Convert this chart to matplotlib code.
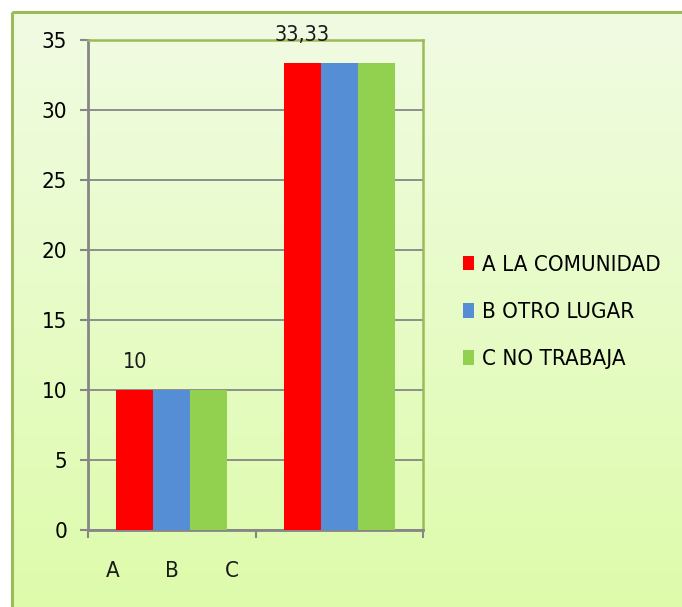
import matplotlib
matplotlib.use("Agg")
import matplotlib.pyplot as plt
import numpy as np
from matplotlib.patches import Rectangle
from matplotlib.colors import LinearSegmentedColormap

# Data
categories = ["", ""]
series_names = ["A LA COMUNIDAD", "B OTRO LUGAR", "C NO TRABAJA"]
series_values = {
    "A LA COMUNIDAD": [10, 33.33],
    "B OTRO LUGAR": [10, 33.33],
    "C NO TRABAJA": [10, 33.33],
}
data_labels = ["10", "33,33"]
extra_labels = ["A", "B", "C"]
extra_label_x = [-0.35, 0.0, 0.36]
colors = ["#FF0000", "#558ED5", "#92D050"]
yticks = [0, 5, 10, 15, 20, 25, 30, 35]

plt.rcParams['font.family'] = ['DejaVu Sans']
plt.rcParams['font.stretch'] = 'condensed'

fig = plt.figure(figsize=(6.82, 6.07), dpi=100)
fig.patch.set_facecolor("white")

# Background frame with gradient
bg = fig.add_axes([0, 0, 1, 1], zorder=0)
bg.axis("off")
cmap = LinearSegmentedColormap.from_list("g", [(0.945, 0.984, 0.890), (0.867, 0.988, 0.667)])
grad = np.linspace(0, 1, 256).reshape(-1, 1)
bg.imshow(grad, cmap=cmap, extent=[12, 690, 615, 12], aspect="auto", zorder=0)
bg.add_patch(Rectangle((12, 12), 690, 610, fill=False, edgecolor="#9BBB59", linewidth=2.2, zorder=1))
bg.set_xlim(0, 682)
bg.set_ylim(607, 0)

ax = fig.add_axes([88/682, 1-530/607, (423-88)/682, (530-40)/607], zorder=1)
ax.patch.set_alpha(0)

x = np.arange(len(categories))
w = 0.22
offsets = [-w, 0, w]
for name, col, off in zip(series_names, colors, offsets):
    ax.bar(x + off, series_values[name], width=w, color=col, label=name, zorder=3)

# data labels on the first series
for xi, v, lab in zip(x, series_values[series_names[0]], data_labels):
    ax.annotate(lab, (xi - w, v), xytext=(0, 13), textcoords="offset points",
                ha="center", va="bottom", fontsize=15.5, color="#1a1a1a")

ax.set_xlim(-0.5, len(categories) - 0.5)
ax.set_ylim(0, 35)
ax.set_yticks(yticks)
ax.set_yticklabels([str(t) for t in yticks], fontsize=16)
ax.yaxis.grid(True, color="#868686", linewidth=1.3, zorder=0)
ax.set_axisbelow(True)

ax.set_xticks([-0.5, 0.5, 1.5])
ax.set_xticklabels(["", "", ""])
ax.tick_params(axis="x", length=6, width=1.5, color="#868686", direction="out")
ax.tick_params(axis="y", length=6, width=1.5, color="#868686", direction="out", pad=9)

for s in ["left", "bottom"]:
    ax.spines[s].set_color("#868686")
    ax.spines[s].set_linewidth(2)
for s in ["top", "right"]:
    ax.spines[s].set_color("#9BBB59")
    ax.spines[s].set_linewidth(1.8)

for lab, xp in zip(extra_labels, extra_label_x):
    ax.text(xp, -2.9, lab, ha="center", va="center", fontsize=16, color="#1a1a1a")

leg = ax.legend(loc="center left", bbox_to_anchor=(1.06, 0.445), frameon=False,
                fontsize=16, handlelength=0.5, handleheight=0.65, handletextpad=0.35,
                labelspacing=1.22)

fig.savefig("out.png", dpi=100)
